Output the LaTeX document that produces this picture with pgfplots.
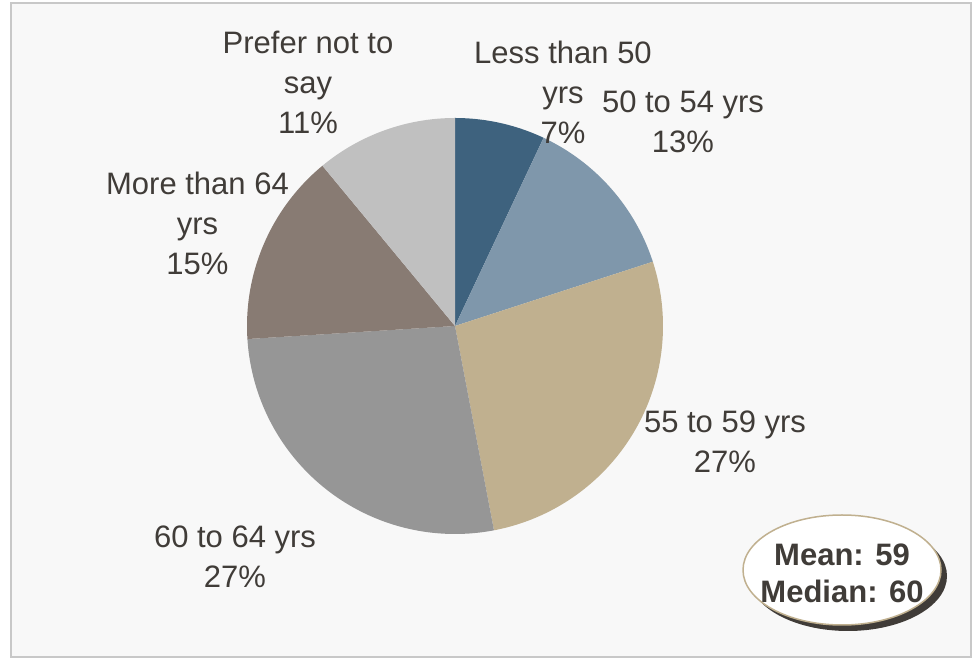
\documentclass[border=0pt]{standalone}
\usepackage{pgfplots}
\pgfplotsset{compat=1.18}
\usepackage{fontspec}
\setmainfont{Liberation Sans}
\definecolor{txt}{HTML}{403C38}
\definecolor{cA}{HTML}{3E627E}
\definecolor{cB}{HTML}{7F97AB}
\definecolor{cC}{HTML}{C0B08F}
\definecolor{cD}{HTML}{969696}
\definecolor{cE}{HTML}{887B73}
\definecolor{cF}{HTML}{C0C0C0}
\definecolor{bg}{HTML}{F8F8F8}
\definecolor{frame}{HTML}{C8C8C8}
\begin{document}
\begin{tikzpicture}
\begin{axis}[
  x=1pt, y=1pt,
  xmin=-455, xmax=521, ymin=-334, ymax=326,
  hide axis, clip=false,
]
% background and frame
\fill[white] (axis cs:-455,-334) rectangle (axis cs:521,326);
\draw[frame, line width=2pt, fill=bg] (axis cs:-444,323) rectangle (axis cs:516,-331);
% slices: percentages 7,13,27,27,15,11 clockwise from the top (3.6 deg per percent)
\addplot[data cs=polar, domain=90:64.8, samples=40, fill=cA, draw=none] {208} -- (axis cs:0,0) -- cycle;
\addplot[data cs=polar, domain=64.8:18, samples=60, fill=cB, draw=none] {208} -- (axis cs:0,0) -- cycle;
\addplot[data cs=polar, domain=18:-79.2, samples=100, fill=cC, draw=none] {208} -- (axis cs:0,0) -- cycle;
\addplot[data cs=polar, domain=-79.2:-176.4, samples=100, fill=cD, draw=none] {208} -- (axis cs:0,0) -- cycle;
\addplot[data cs=polar, domain=-176.4:-230.4, samples=60, fill=cE, draw=none] {208} -- (axis cs:0,0) -- cycle;
\addplot[data cs=polar, domain=-230.4:-270, samples=40, fill=cF, draw=none] {208} -- (axis cs:0,0) -- cycle;
% labels
\begin{scope}[every node/.style={text=txt, align=center, font=\fontsize{31}{40}\selectfont, inner sep=0pt}]
\node at (axis cs:-147,244) {Prefer not to\\say\\11\%};
\node at (axis cs:108,234) {Less than 50\\yrs\\7\%};
\node at (axis cs:228,204.5) {50 to 54 yrs\\13\%};
\node at (axis cs:-257.5,103) {More than 64\\yrs\\15\%};
\node at (axis cs:270,-115.5) {55 to 59 yrs\\27\%};
\node at (axis cs:-220,-231) {60 to 64 yrs\\27\%};
\end{scope}
% mean / median ellipse
\fill[txt] (axis cs:393,-250) ellipse [x radius=99pt, y radius=55pt];
\draw[cC, line width=1.5pt, fill=white] (axis cs:387,-244) ellipse [x radius=99pt, y radius=55pt];
\node[text=txt, align=center, font=\bfseries\fontsize{31}{37}\selectfont, inner sep=0pt] at (axis cs:387,-247.5) {Mean: 59\\Median: 60};
\end{axis}
\end{tikzpicture}
\end{document}
